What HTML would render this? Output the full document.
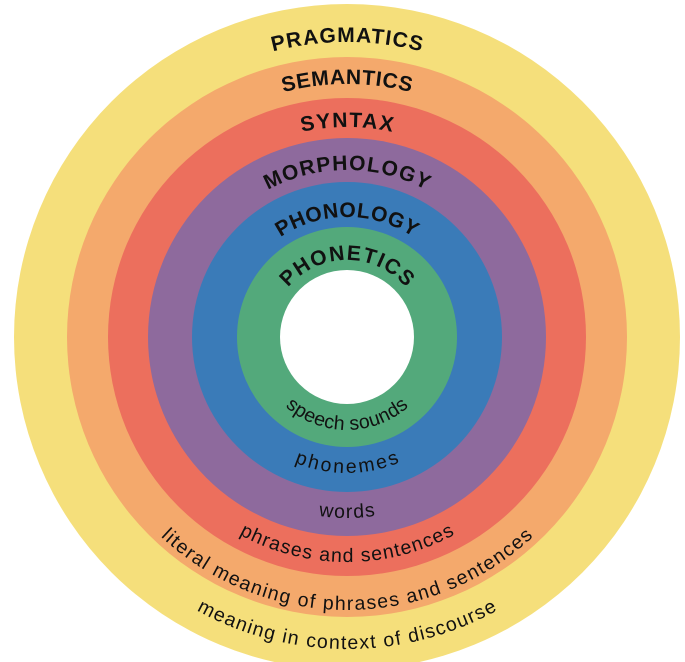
<!DOCTYPE html>
<html><head><meta charset="utf-8"><style>
html,body{margin:0;padding:0;background:#fff;width:685px;height:662px;overflow:hidden}
svg{display:block}
.t{font-family:"Liberation Sans",Arial,sans-serif;font-weight:bold;font-size:21px;fill:#111}
.b{font-family:"Liberation Sans",Arial,sans-serif;font-size:19.5px;fill:#111}
</style></head><body>
<svg width="685" height="662" viewBox="0 0 685 662" xmlns="http://www.w3.org/2000/svg">
<defs>
<path id="t295" d="M52,337 A295,295 0 0 1 642,337"/>
<path id="t253" d="M94,337 A253,253 0 0 1 600,337"/>
<path id="t210" d="M137,337 A210,210 0 0 1 557,337"/>
<path id="t167" d="M180,337 A167,167 0 0 1 514,337"/>
<path id="t120" d="M227,337 A120,120 0 0 1 467,337"/>
<path id="t77" d="M270,337 A77,77 0 0 1 424,337"/>
<path id="b93" d="M254,337 A93,93 0 0 0 440,337"/>
<path id="b136" d="M211,337 A136,136 0 0 0 483,337"/>
<path id="b181" d="M166,337 A181,181 0 0 0 528,337"/>
<path id="b225" d="M122,337 A225,225 0 0 0 572,337"/>
<path id="b273" d="M74,337 A273,273 0 0 0 620,337"/>
<path id="b312" d="M35,337 A312,312 0 0 0 659,337"/>
</defs>
<circle cx="347" cy="337" r="333" fill="#F5DF7B"/>
<circle cx="347" cy="337" r="280" fill="#F4A96C"/>
<circle cx="347" cy="337" r="239" fill="#EC6F5D"/>
<circle cx="347" cy="337" r="199" fill="#8E6A9D"/>
<circle cx="347" cy="337" r="155" fill="#3A7BB8"/>
<circle cx="347" cy="337" r="110" fill="#53A97B"/>
<circle cx="347" cy="337" r="67" fill="#fff"/>

<text class="t"><textPath href="#t295" startOffset="50%" text-anchor="middle" textLength="150" lengthAdjust="spacing">PRAGMATICS</textPath></text>
<text class="t"><textPath href="#t253" startOffset="50%" text-anchor="middle" textLength="129" lengthAdjust="spacing">SEMANTICS</textPath></text>
<text class="t"><textPath href="#t210" startOffset="50%" text-anchor="middle" textLength="91" lengthAdjust="spacing">SYNTAX</textPath></text>
<text class="t"><textPath href="#t167" startOffset="50%" text-anchor="middle" textLength="165" lengthAdjust="spacing">MORPHOLOGY</textPath></text>
<text class="t"><textPath href="#t120" startOffset="50%" text-anchor="middle" textLength="141" lengthAdjust="spacing">PHONOLOGY</textPath></text>
<text class="t"><textPath href="#t77" startOffset="50%" text-anchor="middle" textLength="134" lengthAdjust="spacing">PHONETICS</textPath></text>

<text class="b"><textPath href="#b93" startOffset="50%" text-anchor="middle" textLength="135" lengthAdjust="spacing">speech sounds</textPath></text>
<text class="b"><textPath href="#b136" startOffset="50%" text-anchor="middle" textLength="108" lengthAdjust="spacing">phonemes</textPath></text>
<text class="b"><textPath href="#b181" startOffset="50%" text-anchor="middle" textLength="57" lengthAdjust="spacing">words</textPath></text>
<text class="b"><textPath href="#b225" startOffset="50%" text-anchor="middle" textLength="225" lengthAdjust="spacing">phrases and sentences</textPath></text>
<text class="b"><textPath href="#b273" startOffset="50%" text-anchor="middle" textLength="410" lengthAdjust="spacing">literal meaning of phrases and sentences</textPath></text>
<text class="b"><textPath href="#b312" startOffset="50%" text-anchor="middle" textLength="314" lengthAdjust="spacing">meaning in context of discourse</textPath></text>
</svg>
</body></html>
